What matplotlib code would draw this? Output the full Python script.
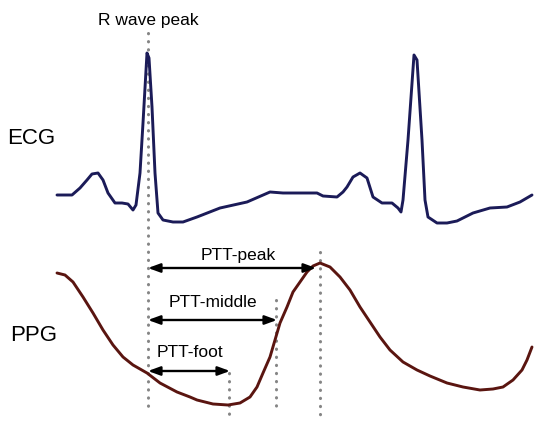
import matplotlib
matplotlib.use("Agg")
import matplotlib.pyplot as plt

plt.rcParams['font.family'] = ['Liberation Sans', 'DejaVu Sans']

# traces (x = time, y = amplitude, picture units, y grows downward)
ecg_x = [57, 72, 80, 87, 92, 98, 103, 108, 115, 122, 128, 133, 136, 140, 143, 147, 149, 152, 155, 158,
         163, 173, 183, 197, 220, 247, 270, 283, 303, 317, 323, 337, 343, 347, 353, 360, 367, 373, 382,
         392, 398, 401, 403, 408, 414, 417, 422, 425, 428, 437, 447, 457, 473, 490, 507, 520, 532]
ecg_y = [195, 195, 188, 180, 174, 173, 180, 193, 203, 203, 204, 210, 205, 173, 123, 53, 58, 107, 173, 213,
         220, 222, 222, 217, 208, 202, 192, 193, 193, 193, 196, 197, 192, 187, 177, 173, 178, 197, 203,
         203, 208, 212, 200, 140, 55, 60, 140, 200, 217, 223, 223, 221, 213, 208, 207, 202, 195]

ppg_x = [57, 65, 73, 83, 93, 103, 113, 123, 133, 147, 160, 177, 190, 197, 213, 228, 240, 250, 257, 263,
         270, 275, 280, 287, 293, 300, 307, 313, 320, 330, 340, 350, 360, 370, 380, 390, 403, 417, 430,
         447, 463, 480, 493, 503, 513, 522, 527, 532]
ppg_y = [273, 275, 282, 297, 313, 330, 345, 357, 365, 373, 383, 392, 397, 400, 404, 405, 403, 397, 387, 373,
         357, 340, 323, 307, 292, 282, 272, 266, 263, 267, 277, 290, 307, 322, 337, 350, 362, 370, 376,
         383, 387, 390, 389, 387, 380, 370, 360, 347]

# markers: R wave peak and the three PPG reference points
r_peak_t = 148
ptt_names = ['PTT-peak', 'PTT-middle', 'PTT-foot']
ptt_guide_t = [320, 276, 229]
ptt_arrow_end = [316, 277, 230]
ptt_row = [268, 320, 371]
ptt_label_t = [238, 213, 190]
ptt_label_row = [255, 302, 352]
guide_top = [252, 300, 373]
guide_bottom = [417, 412, 418]

fig = plt.figure(figsize=(5.5, 4.36), dpi=100)
ax = fig.add_axes([0, 0, 1, 1])
ax.set_xlim(0, 550)
ax.set_ylim(436, 0)
ax.axis('off')

dots = dict(color='#858585', lw=2.2, linestyle=(0, (0.1, 2.55)), dash_capstyle='round', zorder=1)
ax.plot([r_peak_t, r_peak_t], [33, 412], **dots)
for t, top, bot in zip(ptt_guide_t, guide_top, guide_bottom):
    ax.plot([t, t], [top, bot], **dots)

ax.plot(ecg_x, ecg_y, color='#1b1b58', lw=2.1, zorder=3, solid_joinstyle='round', solid_capstyle='round')
ax.plot(ppg_x, ppg_y, color='#5a1510', lw=2.1, zorder=3, solid_joinstyle='round', solid_capstyle='round')

for name, t, row, lt, lr in zip(ptt_names, ptt_arrow_end, ptt_row, ptt_label_t, ptt_label_row):
    ax.annotate('', xy=(t, row), xytext=(r_peak_t, row),
                arrowprops=dict(arrowstyle='<|-|>,head_length=0.6,head_width=0.22', color='black',
                                lw=1.7, mutation_scale=12, shrinkA=0, shrinkB=0), zorder=4)
    ax.text(lt, lr, name, fontsize=12.5, ha='center', va='center', color='black')

ax.text(r_peak_t, 20, 'R wave peak', fontsize=12.5, ha='center', va='center', color='black')
ax.text(7, 138, 'ECG', fontsize=16, ha='left', va='center', color='black')
ax.text(10, 335, 'PPG', fontsize=16, ha='left', va='center', color='black')

fig.savefig('out.png', dpi=100)
